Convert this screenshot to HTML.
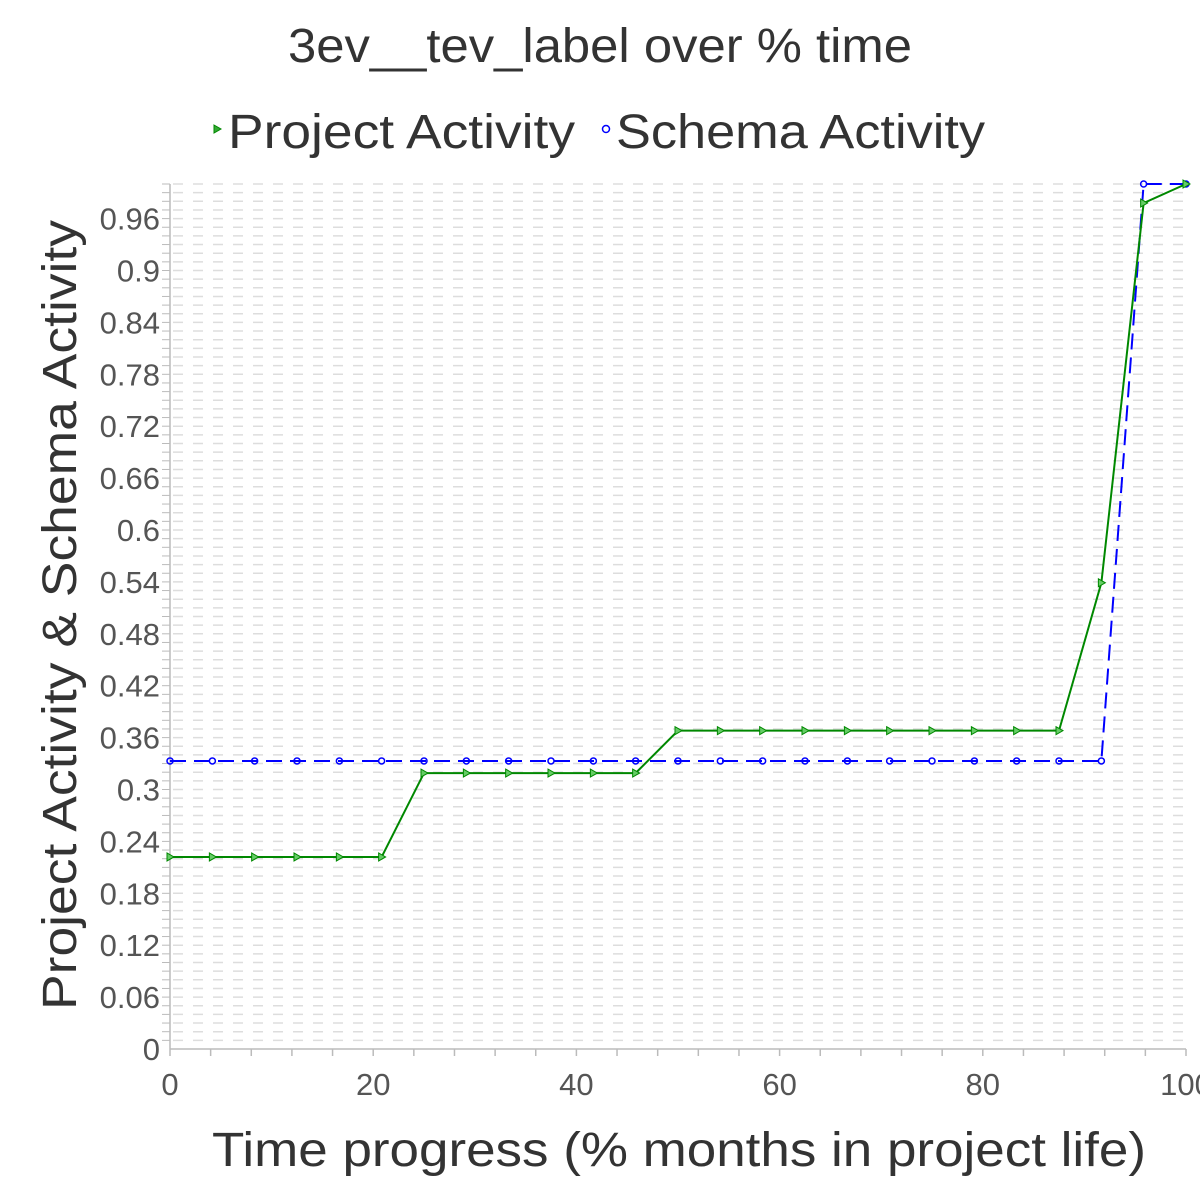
<!DOCTYPE html>
<html><head><meta charset="utf-8"><style>
html,body{margin:0;padding:0;background:#fff;}
svg{display:block;font-family:"Liberation Sans","DejaVu Sans",sans-serif;}
</style></head><body>
<svg id="chart" width="1200" height="1200" viewBox="0 0 1200 1200" xmlns="http://www.w3.org/2000/svg">
<text x="288" y="62" textLength="624" lengthAdjust="spacingAndGlyphs" font-size="48" fill="#333">3ev__tev_label over % time</text>
<g>
 <g>
  <path d="M214 125 L221 129 L214 133 Z" fill="#3a3" stroke="#080" stroke-width="1"/>
  <text x="228" y="148" textLength="347" lengthAdjust="spacingAndGlyphs" font-size="48" fill="#333">Project Activity</text>
 </g>
 <g>
  <circle cx="606" cy="129" r="3.5" fill="none" stroke="#00f" stroke-width="1.5"/>
  <text x="616" y="148" textLength="369" lengthAdjust="spacingAndGlyphs" font-size="48" fill="#333">Schema Activity</text>
 </g>
</g>
<g id="grid"></g>
<g id="axes"></g>
<g id="series"></g>
<text x="212" y="1166" textLength="934" lengthAdjust="spacingAndGlyphs" font-size="48" fill="#333">Time progress (% months in project life)</text>
<text transform="translate(76,1010) rotate(-90)" textLength="790" lengthAdjust="spacingAndGlyphs" font-size="48" fill="#333">Project Activity &amp; Schema Activity</text>
</svg>
<script>
const xValues = [0,4.17,8.33,12.5,16.67,20.83,25,29.17,33.33,37.5,41.67,45.83,50,54.17,58.33,62.5,66.67,70.83,75,79.17,83.33,87.5,91.67,95.83,100];
const projectValues = [0.222,0.222,0.222,0.222,0.222,0.222,0.319,0.319,0.319,0.319,0.319,0.319,0.368,0.368,0.368,0.368,0.368,0.368,0.368,0.368,0.368,0.368,0.539,0.978,1.0];
const schemaValues = [0.333,0.333,0.333,0.333,0.333,0.333,0.333,0.333,0.333,0.333,0.333,0.333,0.333,0.333,0.333,0.333,0.333,0.333,0.333,0.333,0.333,0.333,0.333,1.0,1.0];
const yTickLabels = ["0","0.06","0.12","0.18","0.24","0.3","0.36","0.42","0.48","0.54","0.6","0.66","0.72","0.78","0.84","0.9","0.96"];
const xTickLabels = ["0","20","40","60","80","100"];

const NS="http://www.w3.org/2000/svg";
const L=170,R=1186,B=1049,T=184;
const sx=v=>L+(v/100)*(R-L);
const sy=v=>B-v*(B-T);
function mk(tag,attrs,parent){const e=document.createElementNS(NS,tag);for(const k in attrs)e.setAttribute(k,attrs[k]);parent.appendChild(e);return e;}
const grid=document.getElementById('grid'),axes=document.getElementById('axes'),series=document.getElementById('series');
for(let i=1;i<=100;i++){
  const y=sy(i/100);
  const g=mk('line',{x1:L+3,x2:R,y1:y,y2:y,stroke:'#ddd','stroke-width':1.5,'stroke-dasharray':'10 10'},grid);
  
  
  const t=mk('line',{x1:L-8,x2:L,y1:y,y2:y,stroke:'#bbb','stroke-width':1},axes);
  
  
}
mk('line',{x1:L,x2:L,y1:T,y2:B,stroke:'#bbb','stroke-width':1.5},axes);
mk('line',{x1:L,x2:R,y1:B,y2:B,stroke:'#bbb','stroke-width':1.5},axes);
for(let v=0;v<=100;v+=4){
  const t=mk('line',{x1:sx(v),x2:sx(v),y1:B,y2:B+7,stroke:'#bbb','stroke-width':1.5},axes);
  
  
}
yTickLabels.forEach(s=>{
  const t=mk('text',{x:L-10,y:sy(parseFloat(s))+11,'text-anchor':'end','font-size':31,fill:'#555'},axes);
  t.textContent=s;
  
  
});
xTickLabels.forEach(s=>{
  const t=mk('text',{x:sx(parseFloat(s)),y:B+46,'text-anchor':'middle','font-size':31,fill:'#555'},axes);
  t.textContent=s;
  
  
});
function pts(vals){return vals.map((v,i)=>sx(xValues[i])+','+sy(v)).join(' ');}
const sl=mk('polyline',{points:pts(schemaValues),fill:'none',stroke:'#00f','stroke-width':2,'stroke-dasharray':'16 8'},series);


schemaValues.forEach((v,i)=>{
  const c=mk('circle',{cx:sx(xValues[i]),cy:sy(v),r:3,fill:'none',stroke:'#00f','stroke-width':1.5},series);
  
  
});
const pl=mk('polyline',{points:pts(projectValues),fill:'none',stroke:'#080','stroke-width':2},series);


projectValues.forEach((v,i)=>{
  const x=sx(xValues[i]),y=sy(v);
  const p=mk('path',{d:`M${x-3} ${y-4} L${x+4} ${y} L${x-3} ${y+4} Z`,fill:'#6c6',stroke:'#080','stroke-width':1},series);
  
  
});
</script>
</body></html>
